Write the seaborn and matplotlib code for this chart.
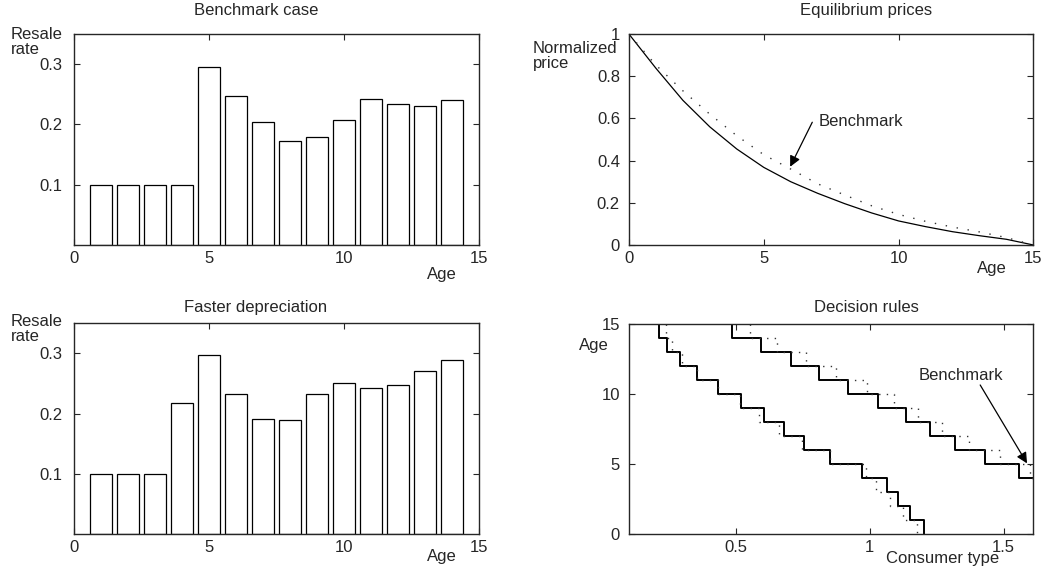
import seaborn as sns
import matplotlib.pyplot as plt

# Resale rates by age (bars)
ages = list(range(1, 15))
resale_benchmark = [0.100, 0.100, 0.100, 0.100, 0.295, 0.247, 0.204, 0.173,
                    0.180, 0.208, 0.242, 0.234, 0.230, 0.240]
resale_faster = [0.100, 0.100, 0.100, 0.217, 0.298, 0.232, 0.191, 0.190,
                 0.232, 0.251, 0.242, 0.248, 0.271, 0.289]

# Equilibrium prices by age
price_ages = list(range(0, 16))
price_faster = [1.0, 0.838, 0.686, 0.560, 0.455, 0.368, 0.30, 0.245, 0.196,
                0.152, 0.114, 0.087, 0.063, 0.044, 0.027, 0.0]
price_benchmark = [1.0, 0.853, 0.731, 0.62, 0.518, 0.428, 0.36, 0.29, 0.237,
                   0.186, 0.145, 0.112, 0.085, 0.062, 0.035, 0.0]

# Decision rules: consumer type where the chosen age drops by one year
low_ages = list(range(14, -1, -1))          # age after each drop (14 .. 0)
low_faster_x = [0.214, 0.241, 0.29, 0.354, 0.431, 0.519, 0.606, 0.679,
                0.753, 0.852, 0.972, 1.063, 1.106, 1.150, 1.204]
low_bench_x = [0.2375, 0.26, 0.30, 0.356, 0.434, 0.515, 0.586, 0.662,
               0.7475, 0.852, 0.984, 1.025, 1.075, 1.125, 1.178]
high_ages = list(range(14, 3, -1))          # age after each drop (14 .. 4)
high_faster_x = [0.484, 0.594, 0.706, 0.812, 0.92, 1.031, 1.135, 1.225,
                 1.319, 1.431, 1.556]
high_bench_x = [0.5525, 0.655, 0.762, 0.873, 0.99, 1.091, 1.181, 1.269,
                1.369, 1.485, 1.60]
type_min, type_max = 0.1, 1.61
top_age = 15

sns.set_style("ticks")
plt.rcParams["font.family"] = ["Liberation Sans", "DejaVu Sans"]
plt.rcParams["font.size"] = 12
plt.rcParams["axes.linewidth"] = 1.0

fig = plt.figure(figsize=(10.42, 5.68), dpi=100)
ax_tl = fig.add_axes([0.071, 0.5687, 0.3887, 0.3713])
ax_bl = fig.add_axes([0.071, 0.0593, 0.3887, 0.3715])
ax_tr = fig.add_axes([0.6036, 0.5687, 0.3881, 0.3713])
ax_br = fig.add_axes([0.6036, 0.0593, 0.3878, 0.3703])

dot_price = (0, (1, 7))
dot_rule = (0, (1, 4.5))


def style_ticks(ax, ypad):
    ax.tick_params(which="both", direction="in", top=True, right=True,
                   length=4, width=0.8, labelsize=12)
    ax.tick_params(axis="y", pad=ypad)
    ax.tick_params(axis="x", pad=4)
    for s in ax.spines.values():
        s.set_visible(True)
        s.set_linewidth(1.0)
    ax.set_xlabel("")
    ax.set_ylabel("")


# bar panels
for ax, vals in [(ax_tl, resale_benchmark), (ax_bl, resale_faster)]:
    sns.barplot(x=ages, y=vals, native_scale=True, ax=ax, color="white",
                edgecolor="black", linewidth=0.9, saturation=1, width=0.8)
    ax.set_xlim(0, 15)
    ax.set_ylim(0, 0.35)
    ax.set_xticks([0, 5, 10, 15], ["0", "5", "10", "15"])
    ax.set_yticks([0.1, 0.2, 0.3], ["0.1", "0.2", "0.3"])
    style_ticks(ax, 8)

fig.text(0.2457, 0.982, "Benchmark case", ha="center", va="center")
fig.text(0.2457, 0.459, "Faster depreciation", ha="center", va="center")
fig.text(0.0106, 0.953, "Resale\nrate", ha="left", va="top", linespacing=1.0)
fig.text(0.0106, 0.447, "Resale\nrate", ha="left", va="top", linespacing=1.0)
fig.text(0.424, 0.517, "Age", ha="center", va="center")
fig.text(0.424, 0.021, "Age", ha="center", va="center")

# price panel
sns.lineplot(x=price_ages, y=price_faster, ax=ax_tr, color="black", lw=0.9,
             estimator=None, sort=False)
sns.lineplot(x=price_ages, y=price_benchmark, ax=ax_tr, color="#333333",
             lw=1.0, linestyle=dot_price, estimator=None, sort=False)
ax_tr.set_xlim(0, 15)
ax_tr.set_ylim(0, 1)
ax_tr.set_xticks([0, 5, 10, 15], ["0", "5", "10", "15"])
ax_tr.set_yticks([0, 0.2, 0.4, 0.6, 0.8, 1], ["0", "0.2", "0.4", "0.6", "0.8", "1"])
style_ticks(ax_tr, 6.5)
ax_tr.text(7.03, 0.584, "Benchmark", ha="left", va="center", fontsize=12)
ax_tr.annotate("", xy=(5.98, 0.371), xytext=(6.80, 0.582),
               arrowprops=dict(arrowstyle="-|>", color="black", lw=0.9,
                               mutation_scale=16, shrinkA=0, shrinkB=0))
fig.text(0.8316, 0.982, "Equilibrium prices", ha="center", va="center")
fig.text(0.5115, 0.927, "Normalized\nprice", ha="left", va="top", linespacing=1.0)
fig.text(0.9517, 0.527, "Age", ha="center", va="center")

# decision rules panel
rules = [
    (low_faster_x, low_ages, [], "black", "-", 1.4),
    (low_bench_x, low_ages, [], "#333333", dot_rule, 1.0),
    (high_faster_x, high_ages, [type_max], "black", "-", 1.4),
    (high_bench_x, high_ages, [type_max], "#333333", dot_rule, 1.0),
]
for xs, ys, tail, col, ls, lw in rules:
    sx = [xs[0]] + xs + tail
    sy = [top_age] + ys + ([ys[-1]] if tail else [])
    sns.lineplot(x=sx, y=sy, ax=ax_br, color=col, lw=lw, linestyle=ls,
                 drawstyle="steps-post", estimator=None, sort=False)
ax_br.set_xlim(type_min, type_max)
ax_br.set_ylim(0, 15)
ax_br.set_xticks([0.5, 1, 1.5], ["0.5", "1", "1.5"])
ax_br.set_yticks([0, 5, 10, 15], ["0", "5", "10", "15"])
style_ticks(ax_br, 6.5)
ax_br.text(1.181, 11.36, "Benchmark", ha="left", va="center", fontsize=12)
ax_br.annotate("", xy=(1.5875, 5.06), xytext=(1.4125, 10.65),
               arrowprops=dict(arrowstyle="-|>", color="black", lw=0.9,
                               mutation_scale=16, shrinkA=0, shrinkB=0))
fig.text(0.8316, 0.459, "Decision rules", ha="center", va="center")
fig.text(0.5557, 0.3926, "Age", ha="left", va="center")
fig.text(0.9045, 0.016, "Consumer type", ha="center", va="center")

fig.savefig("out.png", dpi=100)
